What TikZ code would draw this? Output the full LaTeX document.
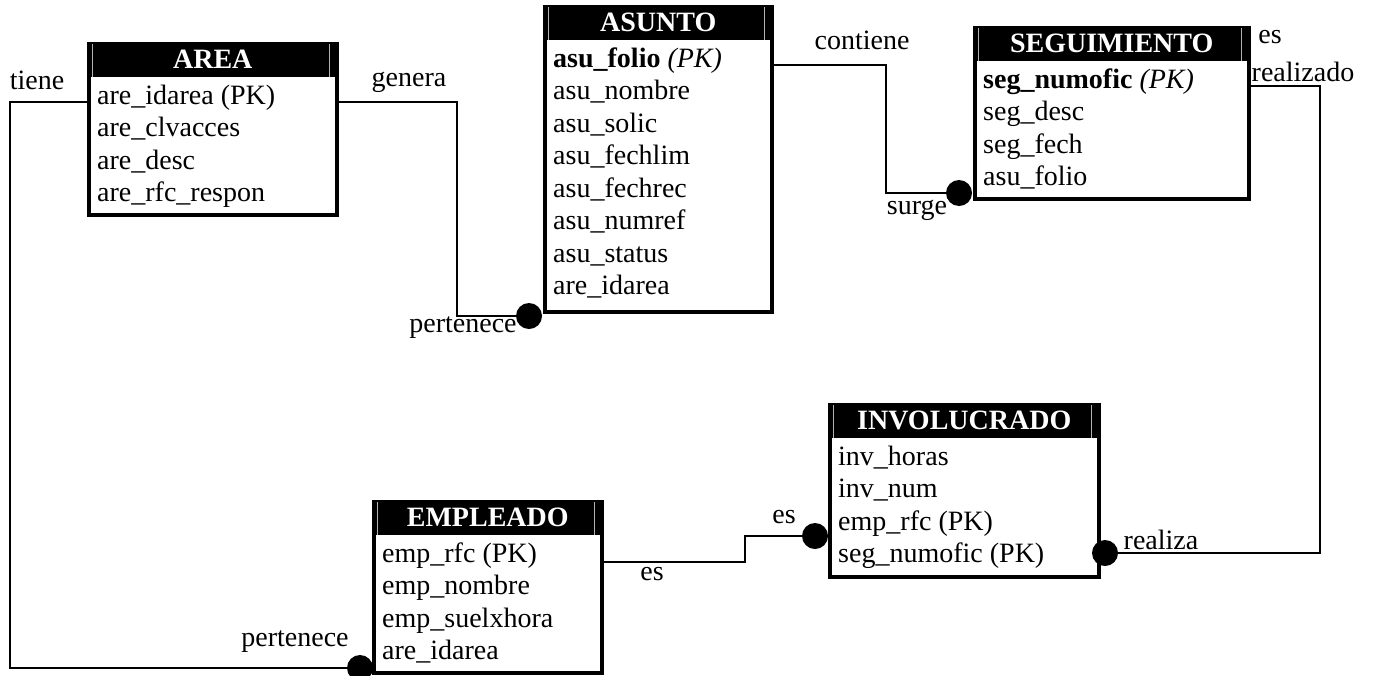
\documentclass[tikz,border=0pt]{standalone}
\usepackage{fontspec}
\setmainfont{Liberation Serif}
\tikzset{
  tabla/.style={draw=black, line width=3.5pt, anchor=north west, inner sep=0pt},
  cabecera/.style={fill=black, text=white, anchor=north, minimum height=35pt, inner sep=0pt, font=\fontsize{28}{32}\selectfont\bfseries},
  campo/.style={anchor=base west, inner sep=0pt},
  linea/.style={draw=black, line width=1.6pt},
  punto/.style={circle, fill=black, inner sep=0pt, minimum size=26pt},
  rel/.style={inner sep=0pt},
  gris/.style={draw=gray!60, line width=1pt}
}
\begin{document}
\begin{tikzpicture}[x=1pt, y=-1pt, font=\fontsize{28}{32}\selectfont]
\useasboundingbox (0,0) rectangle (1375,675);

% tablas
\node[tabla, minimum width=248pt, minimum height=171pt] (area) at (87,42) {};
\node[tabla, minimum width=227pt, minimum height=305pt] (asunto) at (543,5) {};
\node[tabla, minimum width=274pt, minimum height=171pt] (seguimiento) at (973,26) {};
\node[tabla, minimum width=269pt, minimum height=172pt] (involucrado) at (828,403) {};
\node[tabla, minimum width=228pt, minimum height=171pt] (empleado) at (372,500) {};

\node[cabecera, minimum width=248pt] (area-t) at (area.north) {AREA};
\node[cabecera, minimum width=227pt] (asunto-t) at (asunto.north) {ASUNTO};
\node[cabecera, minimum width=274pt] (seguimiento-t) at (seguimiento.north) {SEGUIMIENTO};
\node[cabecera, minimum width=269pt] (involucrado-t) at (involucrado.north) {INVOLUCRADO};
\node[cabecera, minimum width=228pt] (empleado-t) at (empleado.north) {EMPLEADO};

\foreach \t in {area-t,asunto-t,seguimiento-t,involucrado-t,empleado-t}{
  \draw[gris] ([xshift=4pt,yshift=-2pt]\t.north west) -- ([xshift=4pt]\t.south west);
  \draw[gris] ([xshift=-7pt,yshift=-2pt]\t.north east) -- ([xshift=-7pt]\t.south east);
}

% campos
\foreach \txt [count=\i] in {are\_idarea (PK), are\_clvacces, are\_desc, are\_rfc\_respon}
  \node[campo] (area-\i) at (97, 71.5+32.5*\i) {\txt};
\foreach \txt [count=\i] in {{\textbf{asu\_folio} \textit{(PK)}}, asu\_nombre, asu\_solic, asu\_fechlim, asu\_fechrec, asu\_numref, asu\_status, are\_idarea}
  \node[campo] (asunto-\i) at (553, 34.5+32.5*\i) {\txt};
\foreach \txt [count=\i] in {{\textbf{seg\_numofic} \textit{(PK)}}, seg\_desc, seg\_fech, asu\_folio}
  \node[campo] (seguimiento-\i) at (983, 55.5+32.5*\i) {\txt};
\foreach \txt [count=\i] in {inv\_horas, inv\_num, emp\_rfc (PK), seg\_numofic (PK)}
  \node[campo] (involucrado-\i) at (838, 432.5+32.5*\i) {\txt};
\foreach \txt [count=\i] in {emp\_rfc (PK), emp\_nombre, emp\_suelxhora, are\_idarea}
  \node[campo] (empleado-\i) at (382, 529.5+32.5*\i) {\txt};

% relaciones
\node[punto] (pt1) at (529,316) {};
\node[punto] (pt2) at (959,193) {};
\node[punto] (pt3) at (815,536) {};
\node[punto] (pt4) at (1105,553) {};
\node[punto] (pt5) at (360,668) {};

\coordinate (codo1) at (10,0);
\coordinate (codo2) at (457,0);
\coordinate (codo3) at (886,0);
\coordinate (codo4) at (1320,0);
\coordinate (codo5) at (745,0);

\draw[linea] (area.west |- area-1.mid) -| (codo1 |- pt5) -- (pt5);
\draw[linea] (area.east |- area-1.mid) -| (codo2 |- pt1) -- (pt1);
\draw[linea] (asunto.east |- asunto-1.mid) -| (codo3 |- pt2) -- (pt2);
\draw[linea] (seguimiento.east |- seguimiento-1.mid) -| (codo4 |- pt4) -- (pt4);
\draw[linea] (empleado.east |- empleado-1.base) -- (codo5 |- empleado-1.base) |- (pt3);

\node[rel] (l-tiene) at (37,80) {tiene};
\node[rel] (l-genera) at (409,82) {genera};
\node[rel] (l-pertenece1) at (463,328) {pertenece};
\node[rel] (l-contiene) at (862,40) {contiene};
\node[rel] (l-surge) at (917,210) {surge};
\node[rel] (l-es1) at (1270,37) {es};
\node[rel] (l-realizado) at (1303,72) {realizado};
\node[rel] (l-realiza) at (1161,540) {realiza};
\node[rel] (l-es2) at (784,517) {es};
\node[rel] (l-es3) at (652,574) {es};
\node[rel] (l-pertenece2) at (295,642) {pertenece};
\end{tikzpicture}
\end{document}
